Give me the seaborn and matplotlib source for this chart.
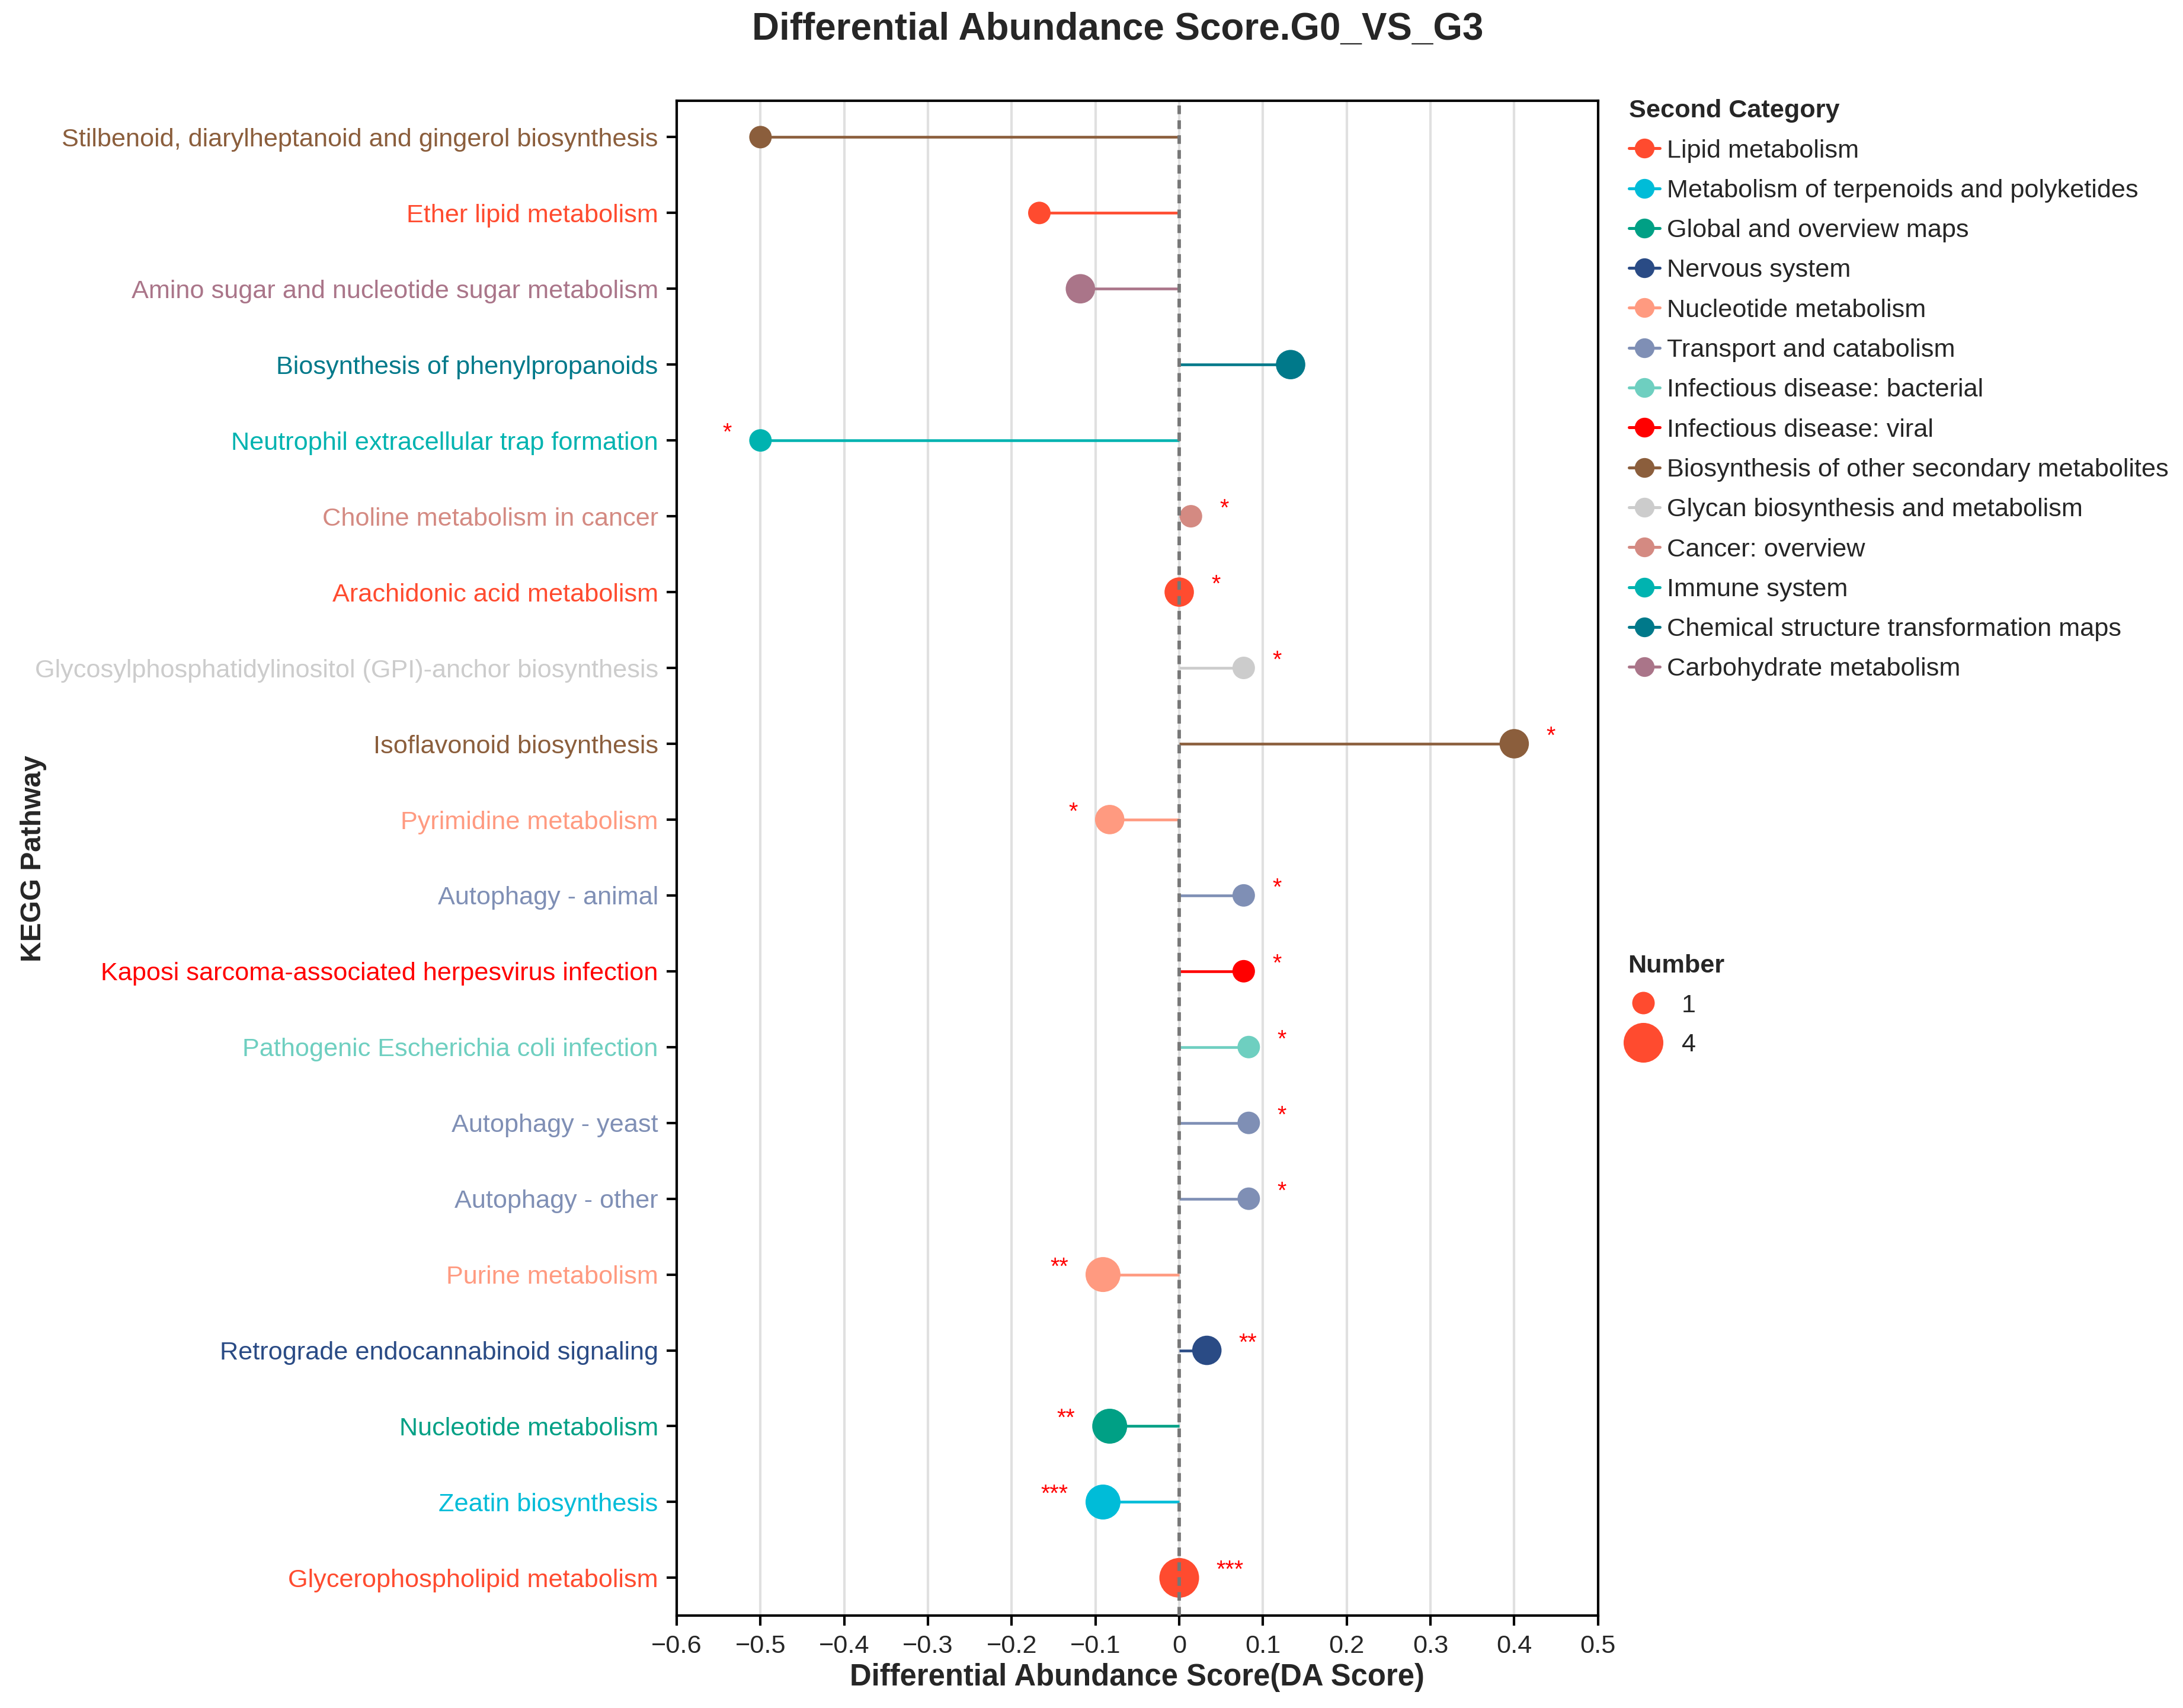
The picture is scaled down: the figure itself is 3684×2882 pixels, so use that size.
import numpy as np
import pandas as pd
import matplotlib
matplotlib.use("Agg")
import matplotlib.pyplot as plt
from matplotlib.lines import Line2D
from matplotlib.ticker import FixedLocator, FuncFormatter
import seaborn as sns

# Data (top row first)
pathways = [
    "Stilbenoid, diarylheptanoid and gingerol biosynthesis",
    "Ether lipid metabolism",
    "Amino sugar and nucleotide sugar metabolism",
    "Biosynthesis of phenylpropanoids",
    "Neutrophil extracellular trap formation",
    "Choline metabolism in cancer",
    "Arachidonic acid metabolism",
    "Glycosylphosphatidylinositol (GPI)-anchor biosynthesis",
    "Isoflavonoid biosynthesis",
    "Pyrimidine metabolism",
    "Autophagy - animal",
    "Kaposi sarcoma-associated herpesvirus infection",
    "Pathogenic Escherichia coli infection",
    "Autophagy - yeast",
    "Autophagy - other",
    "Purine metabolism",
    "Retrograde endocannabinoid signaling",
    "Nucleotide metabolism",
    "Zeatin biosynthesis",
    "Glycerophospholipid metabolism",
]
categories = [
    "Biosynthesis of other secondary metabolites",
    "Lipid metabolism",
    "Carbohydrate metabolism",
    "Chemical structure transformation maps",
    "Immune system",
    "Cancer: overview",
    "Lipid metabolism",
    "Glycan biosynthesis and metabolism",
    "Biosynthesis of other secondary metabolites",
    "Nucleotide metabolism",
    "Transport and catabolism",
    "Infectious disease: viral",
    "Infectious disease: bacterial",
    "Transport and catabolism",
    "Transport and catabolism",
    "Nucleotide metabolism",
    "Nervous system",
    "Global and overview maps",
    "Metabolism of terpenoids and polyketides",
    "Lipid metabolism",
]
da_score = [-0.5, -0.167, -0.118, 0.133, -0.5, 0.014, 0.0, 0.077, 0.4, -0.083,
            0.077, 0.077, 0.083, 0.083, 0.083, -0.091, 0.033, -0.083, -0.091, 0.0]
number = [1, 1, 2, 2, 1, 1, 2, 1, 2, 2, 1, 1, 1, 1, 1, 3, 2, 3, 3, 4]
signif = ["", "", "", "", "*", "*", "*", "*", "*", "*",
          "*", "*", "*", "*", "*", "**", "**", "**", "***", "***"]

legend_order = [
    "Lipid metabolism",
    "Metabolism of terpenoids and polyketides",
    "Global and overview maps",
    "Nervous system",
    "Nucleotide metabolism",
    "Transport and catabolism",
    "Infectious disease: bacterial",
    "Infectious disease: viral",
    "Biosynthesis of other secondary metabolites",
    "Glycan biosynthesis and metabolism",
    "Cancer: overview",
    "Immune system",
    "Chemical structure transformation maps",
    "Carbohydrate metabolism",
]
cat_colors = ["#FF4B2F", "#00BCD8", "#00A085", "#2A4B85", "#FF9A80", "#7F8FB5",
              "#6ECFC0", "#FF0000", "#8B5E3C", "#CCCCCC", "#D48A82", "#00B3B0",
              "#00798A", "#AA7589"]
palette = dict(zip(legend_order, cat_colors))

df = pd.DataFrame({"Pathway": pathways, "Category": categories,
                   "DA": da_score, "Number": number, "Sig": signif})

sns.set_style("white")
plt.rcParams["font.family"] = ["Liberation Sans", "DejaVu Sans"]
plt.rcParams["axes.unicode_minus"] = True

fig = plt.figure(figsize=(12.28, 9.607), dpi=300)
ax = fig.add_axes([0.31, 0.054, 0.422, 0.887])

# light vertical grid
ax.set_axisbelow(True)
ax.grid(axis="x", color="#E0E0E0", lw=1.0)

sns.scatterplot(data=df, x="DA", y="Pathway", hue="Category", palette=palette,
                size="Number", sizes=(83, 259), size_norm=(1, 4),
                linewidth=0, alpha=1, legend=False, ax=ax, zorder=4)

# stems
ax.hlines(df["Pathway"], 0, df["DA"], colors=[palette[c] for c in df["Category"]],
          lw=1.1, zorder=3)
ax.axvline(0, color="#777777", ls=(0, (2.5, 1.8)), lw=1.4, zorder=5)

# significance stars
for _, r in df.iterrows():
    if not r["Sig"]:
        continue
    rad = np.sqrt(83 + (259 - 83) * (r["Number"] - 1) / 3) / 2
    if r["DA"] >= 0:
        ax.annotate(r["Sig"], xy=(r["DA"], r["Pathway"]), xytext=(rad + 7, 3),
                    textcoords="offset points", ha="left", va="center",
                    color="red", fontsize=9.5, zorder=6)
    else:
        ax.annotate(r["Sig"], xy=(r["DA"], r["Pathway"]), xytext=(-rad - 7, 3),
                    textcoords="offset points", ha="right", va="center",
                    color="red", fontsize=9.5, zorder=6)

ax.set_xlim(-0.6, 0.5)
ax.set_ylim(len(pathways) - 0.5, -0.48)
xt = np.round(np.arange(-0.6, 0.51, 0.1), 1)
ax.xaxis.set_major_locator(FixedLocator(xt))
ax.xaxis.set_major_formatter(FuncFormatter(
    lambda v, p: "0" if abs(v) < 1e-9 else f"{v:.1f}".replace("-", "\u2212")))

for s in ax.spines.values():
    s.set_color("black")
    s.set_linewidth(1.0)
ax.tick_params(axis="both", direction="out", length=4, width=1.0, color="black",
               labelsize=10.4, left=True, bottom=True)
for lab in ax.get_yticklabels():
    lab.set_color(palette[df.set_index("Pathway").loc[lab.get_text(), "Category"]])

ax.set_xlabel("Differential Abundance Score(DA Score)", fontsize=12.2,
              fontweight="bold", labelpad=2)
ax.set_ylabel("KEGG Pathway", fontsize=11.5, fontweight="bold")
ax.yaxis.set_label_coords(-0.684, 0.5)
fig.suptitle("Differential Abundance Score.G0_VS_G3", x=0.512, y=0.993,
             fontsize=15.3, fontweight="bold")

# legends
cat_handles = [Line2D([0], [0], color=palette[c], lw=1.2, marker="o",
                      markersize=8, markeredgewidth=0) for c in legend_order]
fig.legend(cat_handles, legend_order, title="Second Category",
           loc="upper left", bbox_to_anchor=(0.7415, 0.948), frameon=False,
           fontsize=10.4, title_fontproperties={"weight": "bold", "size": 10.4},
           alignment="left", handlelength=1.2, handletextpad=0.28,
           labelspacing=0.63, borderaxespad=0)
size_handles = [Line2D([0], [0], ls="", marker="o", color=palette["Lipid metabolism"],
                       markersize=np.sqrt(s), markeredgewidth=0) for s in (83, 259)]
fig.legend(size_handles, ["1", "4"], title="Number", loc="upper left",
           bbox_to_anchor=(0.741, 0.4475), frameon=False, fontsize=10.4,
           title_fontproperties={"weight": "bold", "size": 10.4},
           alignment="left", handlelength=1.2, handletextpad=0.9,
           labelspacing=0.62, borderaxespad=0)

fig.savefig("out.png", dpi=300)
